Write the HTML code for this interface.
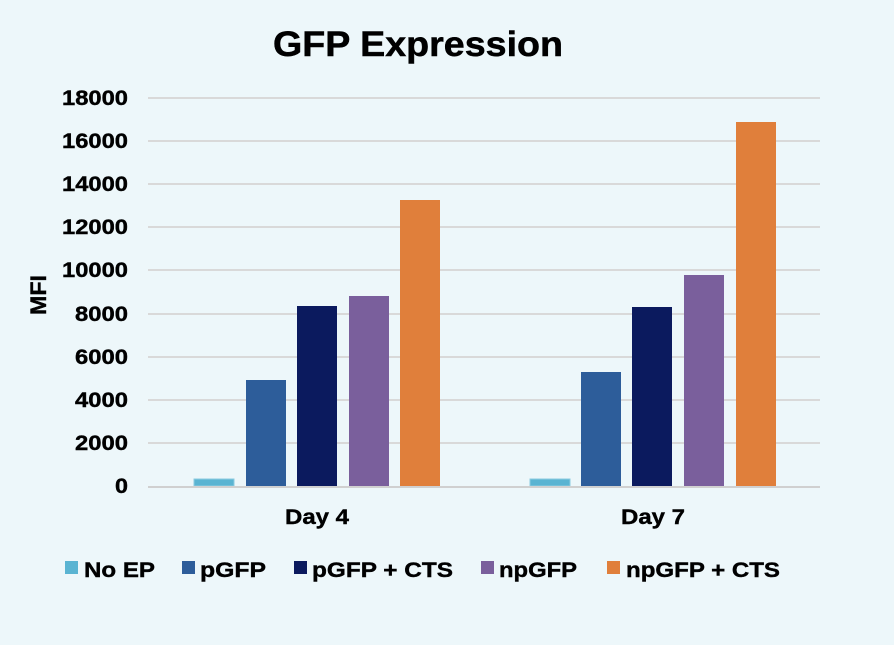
<!DOCTYPE html>
<html><head><style>body{margin:0;background:#edf7fa}</style></head><body>
<svg width="894" height="640" xmlns="http://www.w3.org/2000/svg" font-family="Liberation Sans, Arial, sans-serif" font-weight="bold">
<rect width="894" height="640" fill="#edf7fa"/>
<g stroke="#000" stroke-width="0.5" fill="#000">
<text x="273" y="56" font-size="35" textLength="290" lengthAdjust="spacingAndGlyphs">GFP Expression</text>
</g>
<g stroke="#d9d9d9" stroke-width="2">
<line x1="148" x2="820" y1="98" y2="98"/><line x1="148" x2="820" y1="141" y2="141"/>
<line x1="148" x2="820" y1="184" y2="184"/><line x1="148" x2="820" y1="227" y2="227"/>
<line x1="148" x2="820" y1="270" y2="270"/><line x1="148" x2="820" y1="314" y2="314"/>
<line x1="148" x2="820" y1="357" y2="357"/><line x1="148" x2="820" y1="400" y2="400"/>
<line x1="148" x2="820" y1="443" y2="443"/>
</g>
<g font-size="21" fill="#000" stroke="#000" stroke-width="0.4">
<text x="62" y="105" textLength="66" lengthAdjust="spacingAndGlyphs">18000</text><text x="62" y="148" textLength="66" lengthAdjust="spacingAndGlyphs">16000</text><text x="62" y="191" textLength="66" lengthAdjust="spacingAndGlyphs">14000</text>
<text x="62" y="234" textLength="66" lengthAdjust="spacingAndGlyphs">12000</text><text x="62" y="277" textLength="66" lengthAdjust="spacingAndGlyphs">10000</text><text x="75" y="321" textLength="53" lengthAdjust="spacingAndGlyphs">8000</text>
<text x="75" y="364" textLength="53" lengthAdjust="spacingAndGlyphs">6000</text><text x="75" y="407" textLength="53" lengthAdjust="spacingAndGlyphs">4000</text><text x="75" y="450" textLength="53" lengthAdjust="spacingAndGlyphs">2000</text>
<text x="115" y="493" textLength="13" lengthAdjust="spacingAndGlyphs">0</text>
<text transform="translate(46,315) rotate(-90)" font-size="22" textLength="40" lengthAdjust="spacingAndGlyphs">MFI</text>
</g>
<g stroke-width="1">
<rect x="194" y="479" width="40" height="7" fill="#5ab4d2" stroke="#8ccbe0"/>
<rect x="246" y="380" width="40" height="106" fill="#2d5d9a"/>
<rect x="297" y="306" width="40" height="180" fill="#0b1a5e"/>
<rect x="349" y="296" width="40" height="190" fill="#7a5f9c"/>
<rect x="400" y="200" width="40" height="286" fill="#e07f3b"/>
<rect x="530" y="479" width="40" height="7" fill="#5ab4d2" stroke="#8ccbe0"/>
<rect x="581" y="372" width="40" height="114" fill="#2d5d9a"/>
<rect x="632" y="307" width="40" height="179" fill="#0b1a5e"/>
<rect x="684" y="275" width="40" height="211" fill="#7a5f9c"/>
<rect x="736" y="122" width="40" height="364" fill="#e07f3b"/>
</g>
<line x1="148" x2="820" y1="487" y2="487" stroke="#d0d0d0" stroke-width="2"/>
<g font-size="21" stroke="#000" stroke-width="0.4"><text x="285" y="524" textLength="64" lengthAdjust="spacingAndGlyphs">Day 4</text><text x="621" y="524" textLength="64" lengthAdjust="spacingAndGlyphs">Day 7</text></g>
<rect x="65" y="561" width="13" height="13" fill="#5ab4d2"/>
<rect x="182" y="561" width="13" height="13" fill="#2d5d9a"/>
<rect x="294" y="561" width="13" height="13" fill="#0b1a5e"/>
<rect x="481" y="561" width="13" height="13" fill="#7a5f9c"/>
<rect x="607" y="561" width="13" height="13" fill="#e07f3b"/>
<g font-size="21" stroke="#000" stroke-width="0.4">
<text x="84" y="577" textLength="71" lengthAdjust="spacingAndGlyphs">No EP</text>
<text x="200" y="577" textLength="66" lengthAdjust="spacingAndGlyphs">pGFP</text>
<text x="312" y="577" textLength="141" lengthAdjust="spacingAndGlyphs">pGFP + CTS</text>
<text x="499" y="577" textLength="78" lengthAdjust="spacingAndGlyphs">npGFP</text>
<text x="626" y="577" textLength="154" lengthAdjust="spacingAndGlyphs">npGFP + CTS</text>
</g>
</svg>
</body></html>
